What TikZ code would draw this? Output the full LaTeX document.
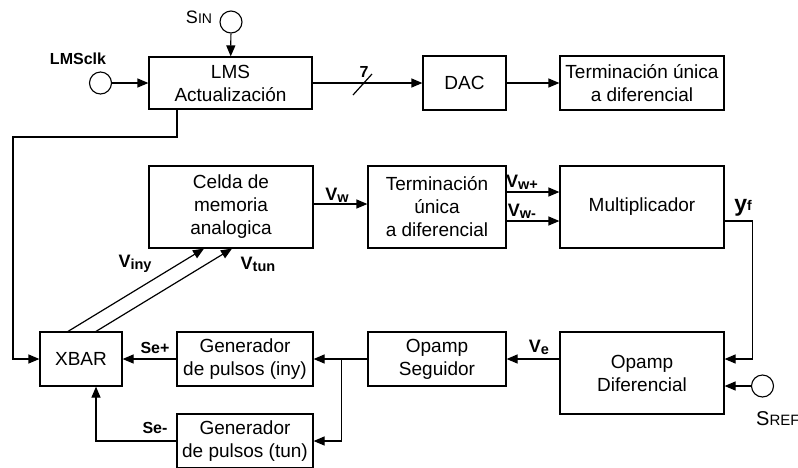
\documentclass[tikz,border=0pt]{standalone}
\usepackage{fontspec}
\setmainfont{Liberation Sans}
\usetikzlibrary{arrows.meta}

% senal con subindice en negrita
\newcommand{\senal}[2]{\textbf{\fontsize{18}{18}\selectfont #1\raisebox{-2pt}{\fontsize{14.5}{14.5}\selectfont #2}}}
% nombre de fuente en versalitas
\newcommand{\fuentenombre}[3]{{\fontsize{#3}{#3}\selectfont #1\fontsize{\numexpr #3*3/4\relax}{10}\selectfont #2}}

\tikzset{
  bloque/.style 2 args={draw, line width=1.2pt, minimum width=#1pt, minimum height=#2pt,
    inner sep=0pt, align=center, font=\fontsize{19}{23}\selectfont},
  fuente/.style={draw, circle, line width=1.1pt, minimum size=22pt, inner sep=0pt},
  flecha/.style={line width=1.2pt, -{Triangle[length=11pt,width=9pt]}},
  linea/.style={line width=1.2pt},
  etiq/.style={inner sep=0pt, font=\bfseries\fontsize{16}{16}\selectfont},
}

\begin{document}
\begin{tikzpicture}[x=1pt, y=-1pt]
  \useasboundingbox (0,0) rectangle (798,467);

  % fila superior
  \node[bloque={163}{52}] (lms) at (230.5,83) {LMS\\Actualizaci\'on};
  \node[bloque={83}{54}] (dac) at (464.5,83) {DAC};
  \node[bloque={164}{54}] (term1) at (642,83) {Terminaci\'on \'unica\\a diferencial};
  \node[fuente] (sin) at (231,22) {};
  \node[fuente] (clk) at (100.5,83) {};
  \node[etiq] (clklbl) at (78,59) {LMSclk};
  \node[inner sep=0pt] (sinlbl) at (199,17) {\fuentenombre{S}{IN}{18}};

  \draw[flecha] (sin) -- (lms);
  \draw[flecha] (clk) -- (clk -| lms.west);
  \draw[flecha] (lms.east) -- (dac.west);
  \draw[linea] (353,95) -- (372,74);
  \node[etiq] (lbus) at (364,72) {7};
  \draw[flecha] (dac.east) -- (term1.west);

  % fila central
  \node[bloque={164}{82}] (celda) at (231,207) {Celda de\\memoria\\analogica};
  \node[bloque={138}{82}] (term2) at (437,207) {Terminaci\'on\\\'unica\\a diferencial};
  \node[bloque={164}{82}] (mult) at (642,207) {Multiplicador};

  \draw[flecha] ([yshift=3pt]celda.east) -- ([yshift=3pt]term2.west);
  \draw[flecha] ([yshift=15pt]term2.east) -- ([yshift=15pt]mult.west);
  \draw[flecha] ([yshift=-14pt]term2.east) -- ([yshift=-14pt]mult.west);
  \node (lvw) at (337,195) {\senal{V}{w}};
  \node (lvwp) at (522,182) {\senal{V}{w+}};
  \node (lvwm) at (522,211) {\senal{V}{w-}};
  \node (lyf) at (743,208) {\textbf{\fontsize{23}{23}\selectfont y\raisebox{1pt}{\fontsize{14}{14}\selectfont f}}};

  % fila inferior
  \node[bloque={164}{82}] (opdif) at (642,373) {Opamp\\Diferencial};
  \node[bloque={138}{54}] (opseg) at (437,359) {Opamp\\Seguidor};
  \node[bloque={136}{54}] (geniny) at (245,359) {Generador\\de pulsos (iny)};
  \node[bloque={136}{54}] (gentun) at (245,441) {Generador\\de pulsos (tun)};
  \node[bloque={82}{54}] (xbar) at (81,359) {XBAR};
  \node[fuente] (sref) at (762.5,386) {};
  \node[inner sep=0pt, anchor=west] (sreflbl) at (756,419) {\fuentenombre{S}{REF}{20}};

  \draw[flecha] ([yshift=-14pt]mult.east) -- ++(28,0) |- ([yshift=14pt]opdif.east);
  \draw[flecha] (sref) -- (sref -| opdif.east);
  \draw[flecha] (opseg.east -| opdif.west) -- (opseg.east);
  \node (lve) at (539,347) {\senal{V}{e}};
  \draw[flecha] (opseg.west) -- (geniny.east);
  \coordinate (rama) at ([xshift=-26pt]opseg.west);
  \draw[flecha] (rama) |- (gentun.east);
  \draw[flecha] (geniny.west) -- (xbar.east);
  \draw[flecha] (gentun.west) -| ([xshift=15pt]xbar.south);
  \node[etiq] (lsep) at (155,348) {Se+};
  \node[etiq] (lsem) at (155,428) {Se-};

  % lazo de actualizacion y lineas de inyeccion/tunel
  \draw[flecha] ([xshift=-53.5pt]lms.south) |- (13,137) |- (xbar.west);
  \draw[flecha] ([xshift=-13pt]xbar.north) -- ([xshift=-27pt]celda.south);
  \draw[flecha] ([xshift=15pt]xbar.north) -- ([xshift=1pt]celda.south);
  \node (lviny) at (135,264) {\senal{V}{iny}};
  \node (lvtun) at (258,264) {\senal{V}{tun}};
\end{tikzpicture}
\end{document}
